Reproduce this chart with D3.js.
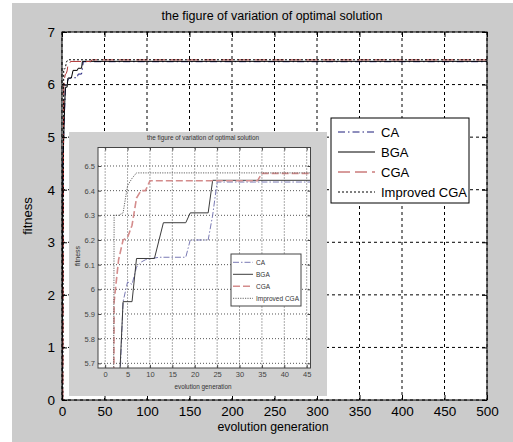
<!DOCTYPE html>
<html>
<head>
<meta charset="utf-8">
<script src="https://cdn.jsdelivr.net/npm/d3@7"></script>
<style>
  body { margin: 0; background: #fff; }
  svg { display: block; font-family: 'Liberation Sans', Arial, sans-serif; }
</style>
</head>
<body>
<div id="chart"></div>
<script>
// best fitness per generation, break points (values hold flat to 500)
const seriesNames = ['CA', 'BGA', 'CGA', 'Improved CGA'];
const caPoints = [[0, 0], [1, 4.6], [3, 5.5], [4, 5.95], [5, 6.03], [6, 6.02], [7, 6.09], [8, 6.11], [9, 6.12],
  [12, 6.13], [18, 6.13], [19, 6.2], [23, 6.2], [24, 6.3], [25, 6.435], [500, 6.435]];
const bgaPoints = [[0, 0], [1, 4.4], [3, 5.55], [4, 5.95], [6, 5.95], [7, 6.125], [11, 6.125], [13, 6.27],
  [18, 6.27], [19, 6.31], [23, 6.31], [24, 6.442], [500, 6.442]];
const cgaPoints = [[0, 0], [1, 0], [2, 5.95], [3, 6.12], [4, 6.2], [5, 6.21], [6, 6.26], [7, 6.37], [8, 6.4],
  [9, 6.4], [10, 6.44], [34, 6.44], [35, 6.47], [500, 6.47]];
const improvedPoints = [[0, 0], [1, 0], [2, 6.3], [3, 6.3], [4, 6.31], [5, 6.42], [6, 6.45], [7, 6.472], [500, 6.472]];

const mainXTicks = [0, 50, 100, 150, 200, 250, 300, 350, 400, 450, 500];
const mainYTicks = [0, 1, 2, 3, 4, 5, 6, 7];
const insetXTicks = [0, 5, 10, 15, 20, 25, 30, 35, 40, 45];
const insetYTicks = [5.7, 5.8, 5.9, 6.0, 6.1, 6.2, 6.3, 6.4, 6.5];
const insetYLabels = ['5.7', '5.8', '5.9', '6', '6.1', '6.2', '6.3', '6.4', '6.5'];

const titleText = 'the figure of variation of optimal solution';
const xLabelText = 'evolution generation';
const yLabelText = 'fitness';

const allSeries = [caPoints, bgaPoints, cgaPoints, improvedPoints];

const mainStyles = [
  { color: '#1c1c7a', dash: '7,3,1.5,3', width: 1 },
  { color: '#000', dash: null, width: 1 },
  { color: '#b03838', dash: '12,5', width: 1 },
  { color: '#000', dash: '2,2', width: 1 }
];
const insetStyles = [
  { color: '#7a7ab4', dash: '6,2,1.5,2', width: 1 },
  { color: '#3c3c3c', dash: null, width: 1 },
  { color: '#d48c8c', dash: '7,3', width: 1.6 },
  { color: '#555', dash: '1.2,1.2', width: 0.9 }
];

const svg = d3.select('#chart').append('svg')
  .attr('width', 513)
  .attr('height', 442);

svg.append('rect')
  .attr('x', 12).attr('y', 3)
  .attr('width', 501).attr('height', 439)
  .attr('fill', '#cbcbcb');

function drawPanel(cfg) {
  const g = svg.append('g');
  const x = d3.scaleLinear().domain(cfg.xDomain).range([cfg.left, cfg.right]);
  const y = d3.scaleLinear().domain(cfg.yDomain).range([cfg.bottom, cfg.top]);

  g.append('rect')
    .attr('x', cfg.left).attr('y', cfg.top)
    .attr('width', cfg.right - cfg.left).attr('height', cfg.bottom - cfg.top)
    .attr('fill', '#fff');

  // grid
  g.selectAll('.vgrid')
    .data(cfg.xTicks)
    .enter().append('line')
    .attr('x1', d => x(d)).attr('x2', d => x(d))
    .attr('y1', cfg.top).attr('y2', cfg.bottom)
    .attr('stroke', cfg.gridColor)
    .attr('stroke-dasharray', cfg.gridDash);
  g.selectAll('.hgrid')
    .data(cfg.yTicks)
    .enter().append('line')
    .attr('x1', cfg.left).attr('x2', cfg.right)
    .attr('y1', d => y(d)).attr('y2', d => y(d))
    .attr('stroke', cfg.gridColor)
    .attr('stroke-dasharray', cfg.gridDash);

  const clipId = cfg.id + '-clip';
  g.append('clipPath').attr('id', clipId)
    .append('rect')
    .attr('x', cfg.left).attr('y', cfg.top)
    .attr('width', cfg.right - cfg.left).attr('height', cfg.bottom - cfg.top);

  const line = d3.line().x(d => x(d[0])).y(d => y(d[1]));
  g.append('g').attr('clip-path', `url(#${clipId})`)
    .selectAll('path')
    .data(allSeries)
    .enter().append('path')
    .attr('d', d => line(d))
    .attr('fill', 'none')
    .attr('stroke', (d, i) => cfg.styles[i].color)
    .attr('stroke-width', (d, i) => cfg.styles[i].width)
    .attr('stroke-dasharray', (d, i) => cfg.styles[i].dash);

  // axes, ticks pointing inward like matlab
  const xAxis = g.append('g')
    .attr('transform', `translate(0,${cfg.bottom})`)
    .call(d3.axisBottom(x).tickValues(cfg.xTicks).tickSizeInner(-cfg.tick).tickSizeOuter(0)
      .tickPadding(cfg.xPad).tickFormat(cfg.xFormat));
  const yAxis = g.append('g')
    .attr('transform', `translate(${cfg.left},0)`)
    .call(d3.axisLeft(y).tickValues(cfg.yTicks).tickSizeInner(-cfg.tick).tickSizeOuter(0)
      .tickPadding(cfg.yPad).tickFormat(cfg.yFormat));
  g.append('g')
    .attr('transform', `translate(0,${cfg.top})`)
    .call(d3.axisTop(x).tickValues(cfg.xTicks).tickSizeInner(-cfg.tick).tickSizeOuter(0).tickFormat(''));
  g.append('g')
    .attr('transform', `translate(${cfg.right},0)`)
    .call(d3.axisRight(y).tickValues(cfg.yTicks).tickSizeInner(-cfg.tick).tickSizeOuter(0).tickFormat(''));
  g.selectAll('.domain').remove();
  g.selectAll('.tick line').attr('stroke', cfg.axisColor);
  [xAxis, yAxis].forEach(a => a.selectAll('text')
    .attr('font-size', cfg.tickFont)
    .attr('font-family', null)
    .attr('fill', cfg.textColor));

  g.append('rect')
    .attr('x', cfg.left).attr('y', cfg.top)
    .attr('width', cfg.right - cfg.left).attr('height', cfg.bottom - cfg.top)
    .attr('fill', 'none')
    .attr('stroke', cfg.axisColor);

  return g;
}

function drawLegend(cfg) {
  const g = svg.append('g');
  g.append('rect')
    .attr('x', cfg.x).attr('y', cfg.y)
    .attr('width', cfg.w).attr('height', cfg.h)
    .attr('fill', '#fff')
    .attr('stroke', cfg.border);
  const row = g.selectAll('.entry')
    .data(seriesNames)
    .enter().append('g')
    .attr('transform', (d, i) => `translate(0,${cfg.y + cfg.first + i * cfg.step})`);
  row.append('line')
    .attr('x1', cfg.lineX1).attr('x2', cfg.lineX2)
    .attr('stroke', (d, i) => cfg.styles[i].color)
    .attr('stroke-width', (d, i) => cfg.styles[i].width)
    .attr('stroke-dasharray', (d, i) => cfg.styles[i].dash);
  row.append('text')
    .attr('x', cfg.textX)
    .attr('dy', '0.35em')
    .attr('font-size', cfg.font)
    .attr('fill', cfg.textColor)
    .text(d => d);
}

// main figure
drawPanel({
  id: 'main', left: 62, right: 487, top: 32, bottom: 400,
  xDomain: [0, 500], yDomain: [0, 7],
  xTicks: mainXTicks, yTicks: mainYTicks,
  xFormat: d3.format('d'), yFormat: d3.format('d'),
  gridColor: '#000', gridDash: '3,3', axisColor: '#000', textColor: '#000',
  tick: 5, xPad: 6, yPad: 7, tickFont: 13.5, styles: mainStyles
});

svg.append('text')
  .attr('x', 272).attr('y', 20)
  .attr('text-anchor', 'middle')
  .attr('font-size', 12.5)
  .attr('textLength', 221).attr('lengthAdjust', 'spacingAndGlyphs')
  .text(titleText);
svg.append('text')
  .attr('x', 273).attr('y', 431)
  .attr('text-anchor', 'middle')
  .attr('font-size', 12.5)
  .attr('textLength', 111).attr('lengthAdjust', 'spacingAndGlyphs')
  .text(xLabelText);
svg.append('text')
  .attr('transform', 'translate(32,216) rotate(-90)')
  .attr('text-anchor', 'middle')
  .attr('font-size', 13)
  .text(yLabelText);

drawLegend({
  x: 331, y: 118, w: 138, h: 85, first: 14, step: 20,
  lineX1: 338, lineX2: 375, textX: 381, font: 13,
  border: '#000', textColor: '#000', styles: mainStyles
});

// zoomed inset figure
svg.append('rect')
  .attr('x', 69).attr('y', 132)
  .attr('width', 258).attr('height', 264)
  .attr('fill', '#d0d0d0');

drawPanel({
  id: 'inset', left: 98, right: 310.5, top: 147.5, bottom: 368,
  xDomain: [-1.6, 45.85], yDomain: [5.681, 6.575],
  xTicks: insetXTicks, yTicks: insetYTicks,
  xFormat: d3.format('d'), yFormat: (d, i) => insetYLabels[i],
  gridColor: '#555', gridDash: '1,2', axisColor: '#444', textColor: '#444',
  tick: 3, xPad: 3.5, yPad: 3, tickFont: 7.5, styles: insetStyles
});

svg.append('text')
  .attr('x', 203).attr('y', 139.5)
  .attr('text-anchor', 'middle')
  .attr('font-size', 7.5)
  .attr('fill', '#333')
  .attr('textLength', 112).attr('lengthAdjust', 'spacingAndGlyphs')
  .text(titleText);
svg.append('text')
  .attr('x', 203).attr('y', 389)
  .attr('text-anchor', 'middle')
  .attr('font-size', 7)
  .attr('fill', '#333')
  .attr('textLength', 57).attr('lengthAdjust', 'spacingAndGlyphs')
  .text(xLabelText);
svg.append('text')
  .attr('transform', 'translate(80,256) rotate(-90)')
  .attr('text-anchor', 'middle')
  .attr('font-size', 7)
  .attr('fill', '#333')
  .text(yLabelText);

drawLegend({
  x: 231, y: 254, w: 70, h: 52, first: 8.3, step: 12,
  lineX1: 233, lineX2: 253, textX: 256, font: 6.5,
  border: '#444', textColor: '#333', styles: insetStyles
});
</script>
</body>
</html>
